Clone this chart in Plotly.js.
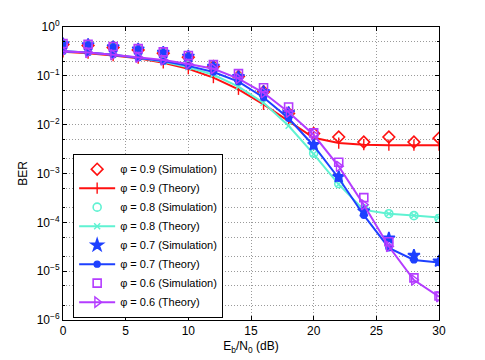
<!DOCTYPE html>
<html><head><meta charset="utf-8">
<script src="https://cdn.plot.ly/plotly-3.0.1.min.js"></script>
<style>html,body{margin:0;padding:0;background:#fff}#chart{width:485px;height:360px}</style>
</head><body><div id="chart"></div>
<script>
const snr = [0,2,4,6,8,10,12,14,16,18,20,22,24,26,28,30];

const sim09 = [0.44,0.42,0.38,0.34,0.29,0.24,0.155,0.097,0.047,0.017,0.0066,0.0056,0.0044,0.0056,0.0044,0.0053];
const th09  = [0.31,0.29,0.26,0.23,0.185,0.14,0.092,0.053,0.026,0.012,0.0054,0.0042,0.0039,0.0038,0.0038,0.0038];
const sim08 = [0.44,0.42,0.38,0.34,0.29,0.24,0.15,0.094,0.045,0.016,0.0026,0.00062,0.00019,0.00015,0.000137,0.00012];
const th08  = [0.32,0.30,0.27,0.235,0.195,0.15,0.105,0.06,0.028,0.0095,0.0025,0.0006,0.00018,0.00015,0.000138,0.000125];
const sim07 = [0.45,0.43,0.39,0.35,0.30,0.25,0.155,0.096,0.047,0.0175,0.0039,0.00086,0.00017,0.000047,0.000021,0.000016];
const th07  = [0.32,0.30,0.27,0.235,0.20,0.16,0.12,0.076,0.036,0.0135,0.0037,0.0008,0.00014,0.00003,0.000017,0.000015];
const sim06 = [0.46,0.44,0.40,0.36,0.31,0.26,0.17,0.111,0.057,0.023,0.0068,0.0017,0.00032,0.00004,0.0000073,0.0000031];
const th06  = [0.32,0.30,0.27,0.24,0.21,0.175,0.14,0.088,0.045,0.018,0.0062,0.0014,0.00023,0.000032,0.0000066,0.000003];

const labels = ['φ = 0.9 (Simulation)','φ = 0.9 (Theory)','φ = 0.8 (Simulation)','φ = 0.8 (Theory)',
                'φ = 0.7 (Simulation)','φ = 0.7 (Theory)','φ = 0.6 (Simulation)','φ = 0.6 (Theory)'];
const yTickVals = [1,0.1,0.01,0.001,0.0001,0.00001,0.000001];
const yTickText = ['10<sup>0</sup>','10<sup>−1</sup>','10<sup>−2</sup>','10<sup>−3</sup>','10<sup>−4</sup>','10<sup>−5</sup>','10<sup>−6</sup>'];

const red='#ff1010', cyan='#5ff2d2', blue='#1e40ff', purple='#b43cff';

function simT(y,name,color,symbol,size){
  return {x:snr,y:y,name:name,mode:'markers',type:'scatter',
    marker:{symbol:symbol,size:size,color:color,line:{color:color,width:1.6}}};
}
function thT(y,name,color,symbol,size){
  return {x:snr,y:y,name:name,mode:'lines+markers',type:'scatter',
    line:{color:color,width:2},
    marker:{symbol:symbol,size:size,color:color,line:{color:color,width:1.4}}};
}
const data = [
  simT(sim09,labels[0],red,'diamond-open',9),
  thT(th09,labels[1],red,'line-ns-open',8),
  simT(sim08,labels[2],cyan,'circle-open',8),
  thT(th08,labels[3],cyan,'x-thin-open',6),
  simT(sim07,labels[4],blue,'star',9),
  thT(th07,labels[5],blue,'circle',6),
  simT(sim06,labels[6],purple,'square-open',8),
  thT(th06,labels[7],purple,'triangle-right-open',9)
];
const gridDash = '1px,2px';
const layout = {
  width:485,height:360,
  margin:{l:63,r:46,t:27,b:40},
  paper_bgcolor:'#fff',plot_bgcolor:'#fff',
  font:{family:'Liberation Sans, Arial, sans-serif',size:12,color:'#000'},
  showlegend:true,
  legend:{x:0.027,y:0.008,xanchor:'left',yanchor:'bottom',bgcolor:'#fff',bordercolor:'#000',borderwidth:1,
    font:{size:11},tracegroupgap:0,itemwidth:36},
  xaxis:{range:[0,30],dtick:5,tick0:0,showline:true,linecolor:'#000',linewidth:1,mirror:'ticks',
    ticks:'inside',ticklen:4,tickcolor:'#000',showgrid:true,gridcolor:'#9a9a9a',griddash:gridDash,gridwidth:1,
    zeroline:false,title:{text:'E<sub>b</sub>/N<sub>0</sub> (dB)',standoff:4,font:{size:12}}},
  yaxis:{type:'log',range:[-6,0],tickvals:yTickVals,ticktext:yTickText,showline:true,linecolor:'#000',linewidth:1,
    mirror:'ticks',ticks:'inside',ticklen:4,tickcolor:'#000',showgrid:true,gridcolor:'#9a9a9a',griddash:gridDash,gridwidth:1,
    zeroline:false,
    minor:{showgrid:true,gridcolor:'#9a9a9a',griddash:gridDash,gridwidth:1,ticks:'inside',ticklen:2,tickcolor:'#000'},
    title:{text:'BER',standoff:6,font:{size:12}}}
};
Plotly.newPlot('chart',data,layout,{displayModeBar:false,staticPlot:true});
</script></body></html>
